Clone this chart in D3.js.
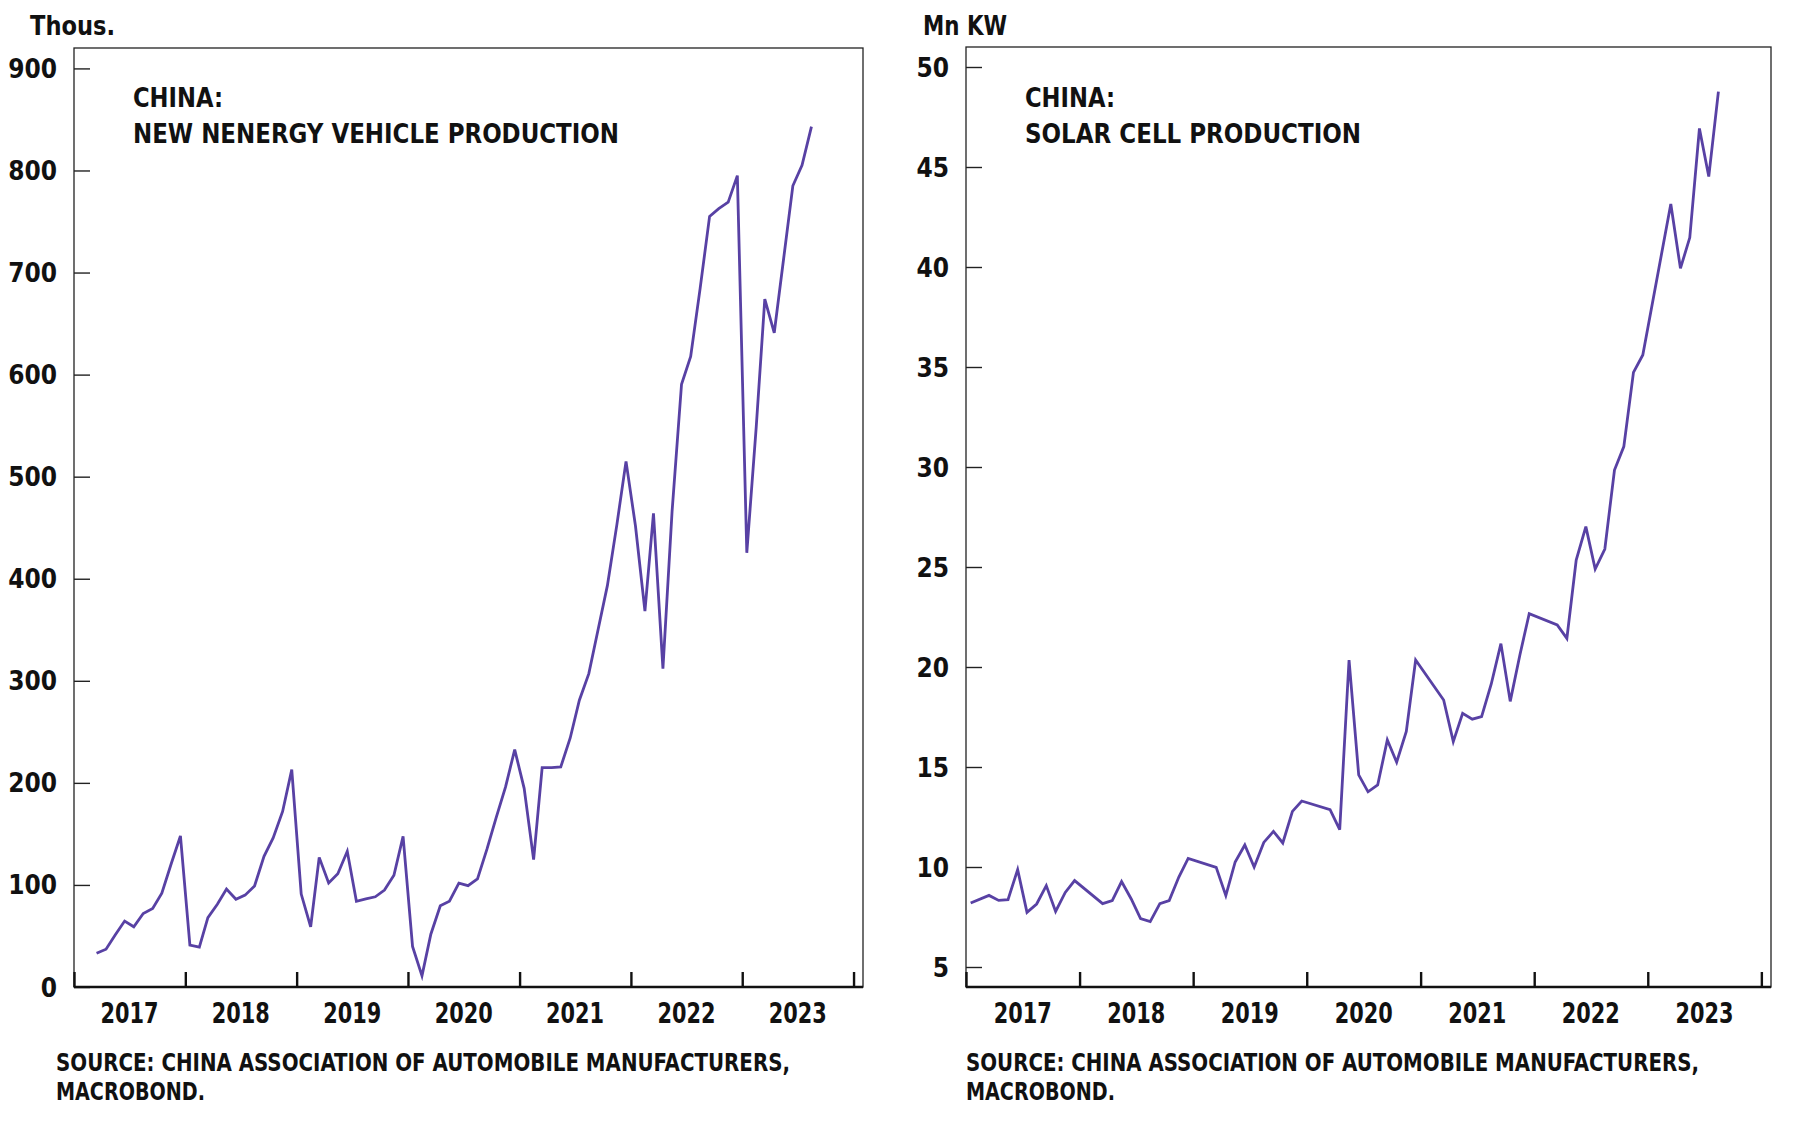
<!DOCTYPE html>
<html>
<head>
<meta charset="utf-8">
<script src="https://cdn.jsdelivr.net/npm/d3@7"></script>
<style>
  html, body { margin: 0; padding: 0; background: #fff; }
  svg text { font-family: "Liberation Sans Narrow", "DejaVu Sans Condensed", "Arial Narrow", sans-serif; font-weight: bold; fill: #111; }
</style>
</head>
<body>
<svg id="chart" width="1800" height="1122"></svg>
<script>
// ---------- DATA ----------
const years = ["2017", "2018", "2019", "2020", "2021", "2022", "2023"];

// China: new energy vehicle production, thousands, monthly Mar 2017 - Aug 2023
const nevStart = [2017, 2]; // year, month index (0 = Jan)
const nevValues = [
  33, 37, 51, 64.6, 59, 72, 77, 92, 121, 148,
  41, 39, 68, 81, 96, 86, 90, 99, 128, 146, 172, 213,
  91, 59, 127, 102, 111, 133, 84, 86.4, 88.4, 95, 109.5, 147.6,
  39.8, 10.9, 51.7, 79.6, 84, 101.7, 99.3, 106, 135, 165.6, 196, 232.6,
  194.6, 124.8, 215, 215, 215.6, 244, 281, 307, 351, 393.5, 453, 515,
  451.7, 368.3, 464, 312, 466, 590.6, 617.7, 684.5, 755, 762.6, 769, 795,
  425.4, 549, 674, 641, 711.8, 785, 805, 843
];

// China: solar cell production, Mn KW, monthly Jan 2017 - Aug 2023 (null = not published)
const solarStart = [2017, 0];
const solarValues = [
  8.2, null, 8.58, 8.33, 8.37, 9.87, 7.73, 8.15, 9.07, 7.78, 8.73, 9.32,
  null, null, 8.17, 8.32, 9.27, 8.4, 7.42, 7.27, 8.17, 8.32, 9.5, 10.43,
  null, null, 9.98, 8.57, 10.25, 11.1, 10.0, 11.23, 11.78, 11.2, 12.78, 13.3,
  null, null, 12.87, 11.87, 20.35, 14.61, 13.76, 14.1, 16.35, 15.24, 16.78, 20.35,
  null, null, 18.35, 16.27, 17.68, 17.39, 17.52, 19.15, 21.17, 18.28, 20.6, 22.67,
  null, null, 22.1, 21.43, 25.35, 27.02, 24.9, 25.9, 29.85, 31.02, 34.73, 35.6,
  null, null, 43.15, 39.93, 41.47, 46.93, 44.52, 48.77
];

const nevTicks = [0, 100, 200, 300, 400, 500, 600, 700, 800, 900];
const solarTicks = [5, 10, 15, 20, 25, 30, 35, 40, 45, 50];

const panels = [
  {
    unit: "Thous.", title: ["CHINA:", "NEW NENERGY VEHICLE PRODUCTION"],
    source: ["SOURCE: CHINA ASSOCIATION OF AUTOMOBILE MANUFACTURERS,", "MACROBOND."],
    start: nevStart, values: nevValues, ticks: nevTicks, yDomain: [0, 920],
    box: { x0: 74, x1: 863, y0: 48, y1: 987 },
    unitX: 30, sourceX: 56, titleW: [90, 486], sourceW: [734, 149], unitW: 85
  },
  {
    unit: "Mn KW", title: ["CHINA:", "SOLAR CELL PRODUCTION"],
    source: ["SOURCE: CHINA ASSOCIATION OF AUTOMOBILE MANUFACTURERS,", "MACROBOND."],
    start: solarStart, values: solarValues, ticks: solarTicks, yDomain: [4, 51],
    box: { x0: 966, x1: 1771, y0: 47, y1: 987 },
    unitX: 923, sourceX: 966, titleW: [90, 336], sourceW: [733, 149], unitW: 84
  }
];

const svg = d3.select("#chart");
svg.append("rect").attr("width", 1800).attr("height", 1122).attr("fill", "#fff");

function fit(sel, w) {
  const n = sel.node().getComputedTextLength();
  if (w && Math.abs(n - w) / w > 0.02) {
    sel.attr("textLength", w).attr("lengthAdjust", "spacingAndGlyphs");
  }
  return sel;
}

const lineColor = "#5841a4";

panels.forEach(p => {
  const b = p.box;
  const g = svg.append("g");
  const x = d3.scaleTime()
    .domain([new Date(2017, 0, 1), new Date(2024, 1, 1)])
    .range([b.x0, b.x1]);
  const y = d3.scaleLinear().domain(p.yDomain).range([b.y1, b.y0]);

  const data = p.values.map((v, i) => ({
    date: new Date(p.start[0], p.start[1] + i, 16),
    v: v
  })).filter(d => d.v !== null);

  // frame
  g.append("rect")
    .attr("x", b.x0).attr("y", b.y0)
    .attr("width", b.x1 - b.x0).attr("height", b.y1 - b.y0)
    .attr("fill", "none").attr("stroke", "#222").attr("stroke-width", 1.3);

  // y axis (ticks inward)
  const yAxis = d3.axisRight(y).tickValues(p.ticks).tickSize(16).tickFormat("");
  const ya = g.append("g").attr("transform", `translate(${b.x0},0)`).call(yAxis);
  ya.select(".domain").remove();
  ya.selectAll(".tick line").attr("stroke", "#222").attr("stroke-width", 1.4);

  g.selectAll(".ylab").data(p.ticks).enter().append("text")
    .attr("class", "ylab")
    .attr("x", b.x0 - 17).attr("y", d => y(d) + 9.5)
    .attr("text-anchor", "end").attr("font-size", 26)
    .text(d => d);

  // x axis: year boundary ticks pointing up
  const tickDates = d3.range(2017, 2025).map(yr => new Date(yr, 0, 1));
  const xAxis = d3.axisTop(x).tickValues(tickDates).tickSize(15).tickFormat("");
  const xa = g.append("g").attr("transform", `translate(0,${b.y1})`).call(xAxis);
  xa.select(".domain").remove();
  xa.selectAll(".tick line").attr("stroke", "#111").attr("stroke-width", 2.4);
  g.append("line")
    .attr("x1", b.x0).attr("x2", b.x1).attr("y1", b.y1).attr("y2", b.y1)
    .attr("stroke", "#111").attr("stroke-width", 2.4);

  g.selectAll(".xlab").data(years).enter().append("text")
    .attr("class", "xlab")
    .attr("x", d => x(new Date(+d, 6, 2)))
    .attr("y", 1023)
    .attr("text-anchor", "middle").attr("font-size", 28)
    .text(d => d)
    .each(function() { fit(d3.select(this), 58); });

  // line
  const line = d3.line().x(d => x(d.date)).y(d => y(d.v));
  g.append("path").datum(data)
    .attr("d", line)
    .attr("fill", "none")
    .attr("stroke", lineColor)
    .attr("stroke-width", 2.8)
    .attr("stroke-linejoin", "miter");

  // unit label
  fit(g.append("text").attr("x", p.unitX).attr("y", 34.5).attr("font-size", 27).text(p.unit), p.unitW);

  // title
  p.title.forEach((t, i) => {
    fit(g.append("text")
      .attr("x", b.x0 + 59).attr("y", 107 + i * 36)
      .attr("font-size", 27).text(t), p.titleW[i]);
  });

  // source
  p.source.forEach((t, i) => {
    fit(g.append("text")
      .attr("x", p.sourceX).attr("y", 1071 + i * 29)
      .attr("font-size", 24).text(t), p.sourceW[i]);
  });
});
</script>
</body>
</html>
